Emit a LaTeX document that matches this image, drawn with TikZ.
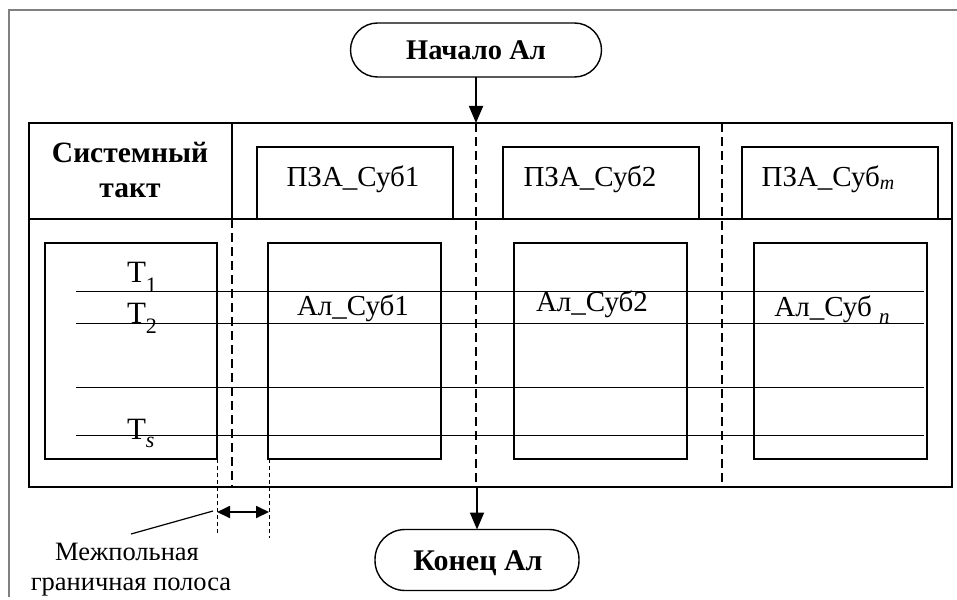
\documentclass[tikz,border=0pt]{standalone}
\usepackage{fontspec}
\setmainfont{Liberation Serif}
\usetikzlibrary{arrows.meta}

% lowered subscript, as set by the word processor
\newcommand\lowsub[3]{\raisebox{-#1pt}{\fontsize{#2}{#2}\selectfont #3}}

\begin{document}
\begin{tikzpicture}[x=1pt,y=-1pt,
  every node/.style={inner sep=0pt, outer sep=0pt},
  frameline/.style={draw=black!50, line width=1.5pt},
  tablebox/.style={draw, line width=1.7pt},
  cellbox/.style={draw, line width=1.3pt, anchor=north west},
  rowline/.style={draw, line width=0.9pt},
  bound/.style={draw, line width=1.5pt, dash pattern=on 9pt off 5pt},
  thinbound/.style={draw, line width=0.9pt, dash pattern=on 4pt off 3pt},
  terminal/.style={draw, line width=1.4pt},
  flow/.style={line width=1.8pt, -{Triangle[length=17pt,width=14pt]}},
  gap/.style={line width=1.8pt, {Triangle[length=13pt,width=12pt]}-{Triangle[length=13pt,width=12pt]}},
  lbl/.style={anchor=base, font=\fontsize{#1}{#1}\selectfont},
  blbl/.style={anchor=base, font=\fontsize{#1}{#1}\selectfont\bfseries}]

\useasboundingbox (0,0) rectangle (957,599);

% outer frame
\draw[frameline] (9,597) -- (9,10) -- (957,10);

% terminals
\node[terminal, rounded corners=27pt, minimum width=251pt, minimum height=54pt] (start) at (476,50) {};
\node[blbl=28.5] at (476,60) {Начало Ал};
\node[terminal, rounded corners=30pt, minimum width=204pt, minimum height=61pt] (end) at (477,560) {};
\node[blbl=30] at (478,570) {Конец Ал};

% main table
\node[tablebox, anchor=north west, minimum width=923pt, minimum height=364pt] (table) at (29,123) {};
\draw[tablebox] (29,219) -- (952,219);
\draw[tablebox] (232,123) -- (232,219);

% field boundaries
\draw[bound] (232,219) -- (232,487);
\draw[bound] (476,123) -- (476,487);
\draw[bound] (722,123) -- (722,487);

% header
\node[blbl=29.5] at (130,162) {Системный};
\node[blbl=29.5] at (130,197) {такт};

\node[cellbox, minimum width=196pt, minimum height=72pt] (pza1) at (257,147) {};
\node[cellbox, minimum width=196pt, minimum height=72pt] (pza2) at (503,147) {};
\node[cellbox, minimum width=196pt, minimum height=72pt] (pzam) at (742,147) {};
\node[lbl=29] at (353,186) {ПЗА\_Суб1};
\node[lbl=29] at (590,186) {ПЗА\_Суб2};
\node[lbl=29] at (828,186) {ПЗА\_Суб\lowsub{3}{20}{\itshape m}};

% sub-algorithm blocks
\node[cellbox, minimum width=172pt, minimum height=216pt] (tact) at (45,243) {};
\node[cellbox, minimum width=173pt, minimum height=216pt] (al1) at (268,243) {};
\node[cellbox, minimum width=173pt, minimum height=216pt] (al2) at (514,243) {};
\node[cellbox, minimum width=173pt, minimum height=216pt] (aln) at (754,243) {};

% clock ticks
\draw[rowline] (76,291) -- (924,291);
\draw[rowline] (76,323) -- (924,323);
\draw[rowline] (76,387) -- (924,387);
\draw[rowline] (76,435) -- (924,435);

\node[lbl=31, anchor=base west] at (127,282) {Т\lowsub{10}{22}{1}};
\node[lbl=31, anchor=base west] at (127,323) {Т\lowsub{10}{22}{2}};
\node[lbl=31, anchor=base west] at (127,439) {Т\lowsub{8}{22}{\itshape s}};

\node[lbl=29] at (353,315) {Ал\_Суб1};
\node[lbl=29] at (592,311) {Ал\_Суб2};
\node[lbl=29] at (832,316) {Ал\_Суб \lowsub{7}{21}{\itshape n}};

% connectors
\draw[flow] (start.south) -- (start.south |- table.north);
\draw[flow] (table.south -| end.north) -- (end.north);

% inter-field boundary band
\coordinate (bandL) at (217,512);
\coordinate (bandR) at (269,512);
\coordinate (leader) at (131,534);
\draw[thinbound] (217,459) -- (217,535);
\draw[thinbound] (269,459) -- (269,538);
\draw[gap] (bandL) -- (bandR);
\draw[line width=1.2pt] (bandL) ++(-4,-1) -- (leader);
\node[lbl=26.5] at (127,560) {Межпольная};
\node[lbl=26.5] at (131,590) {граничная полоса};

\end{tikzpicture}
\end{document}
